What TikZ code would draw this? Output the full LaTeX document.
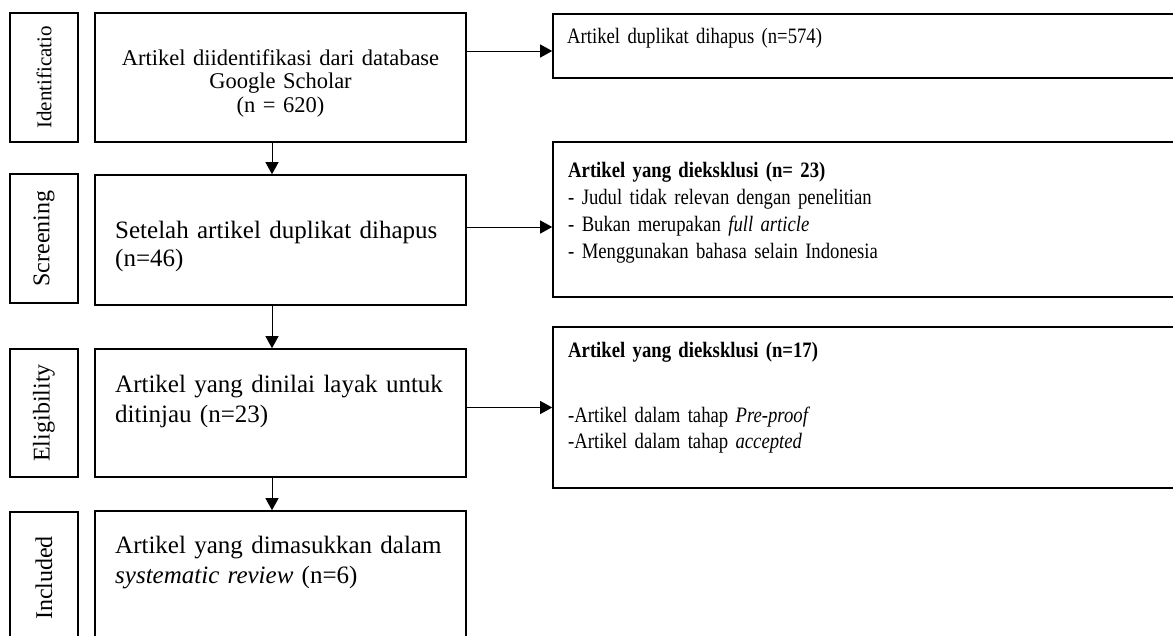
\documentclass[tikz,border=0pt]{standalone}
\usepackage{fontspec}
\setmainfont{Liberation Serif}
\newfontfamily\sidefamily[FakeStretch=0.85]{Liberation Serif}
\usepackage{tikz}
\usetikzlibrary{arrows.meta,positioning}

\newcommand\ftitle{\fontsize{22.5}{23.5}\selectfont}
\newcommand\fmain{\fontsize{25}{28}\selectfont}
\newcommand\fmainwide{\fontsize{25}{30}\selectfont}
\newcommand\fside{\sidefamily\fontsize{22}{27}\selectfont}
\newcommand\fsidethree{\sidefamily\fontsize{22}{26}\selectfont}
\newcommand\fstage{\fontsize{24}{26}\selectfont}
\newcommand\fstagesmall{\fontsize{21}{23}\selectfont}

\tikzset{
  stagebox/.style={draw, line width=1.6pt, rotate=90, inner sep=0pt, minimum height=68pt, font=\fstage},
  mainbox/.style={draw, line width=1.6pt, inner sep=0pt, minimum width=371pt},
  sidebox/.style={draw, line width=1.6pt, inner sep=0pt, minimum width=632pt},
  txt/.style={anchor=base west, inner sep=0pt, text width=345pt, align=left},
  sidetxt/.style={anchor=base west, inner sep=0pt, text width=590pt, align=left},
  arr/.style={-{Triangle[length=12pt,width=13pt]}, line width=1pt}
}

\begin{document}
\begin{tikzpicture}[x=1pt,y=-1pt]
\useasboundingbox (0,0) rectangle (1173,635);

% stages
\node[stagebox, minimum width=129pt, font=\fstagesmall] (s1) at (44,77.5) {Identificatio};
\node[stagebox, minimum width=129pt] (s2) at (44,238.5) {Screening};
\node[stagebox, minimum width=128pt] (s3) at (44,413) {Eligibility};
\node[stagebox, minimum width=132pt] (s4) at (44,578) {Included};

% main column
\node[mainbox, minimum height=129pt] (b1) at (280.5,77.5) {};
\node[mainbox, minimum height=130pt] (b2) at (280.5,240) {};
\node[mainbox, minimum height=128pt] (b3) at (280.5,413) {};
\node[mainbox, minimum height=134pt] (b4) at (280.5,578) {};

\node[txt, anchor=base, align=center, font=\ftitle] (t1) at (280.5,65)
  {Artikel diidentifikasi dari database\\Google Scholar\\(n = 620)};
\node[txt, font=\fmain] (t2) at (115,238) {Setelah artikel duplikat dihapus\\(n=46)};
\node[txt, font=\fmainwide] (t3) at (115,392) {Artikel yang dinilai layak untuk\\ditinjau (n=23)};
\node[txt, font=\fmainwide] (t4) at (115,553) {Artikel yang dimasukkan dalam\\\textit{systematic review} (n=6)};

% excluded column
\node[sidebox, minimum height=64pt] (r1) at (869,46) {};
\node[sidebox, minimum height=155pt] (r2) at (869,219.5) {};
\node[sidebox, minimum height=161pt] (r3) at (869,407.5) {};

\node[sidetxt, font=\fside] (tr1) at (567,43) {Artikel duplikat dihapus (n=574)};
\node[sidetxt, font=\fside] (tr2) at (568,177)
  {\textbf{Artikel yang dieksklusi (n= 23)}\\- Judul tidak relevan dengan penelitian\\- Bukan merupakan \textit{full article}\\- Menggunakan bahasa selain Indonesia};
\node[sidetxt, font=\fsidethree] (tr3) at (568,357)
  {\textbf{Artikel yang dieksklusi (n=17)}\\[39pt]-Artikel dalam tahap \textit{Pre-proof}\\-Artikel dalam tahap \textit{accepted}};

% arrows
\coordinate (ax) at (272,0);
\draw[arr] (b1.south -| ax) -- (b2.north -| ax);
\draw[arr] (b2.south -| ax) -- (b3.north -| ax);
\draw[arr] (b3.south -| ax) -- (b4.north -| ax);

\coordinate (a1) at ([yshift=-5pt]r1.west);
\coordinate (a2) at ([yshift=-7.5pt]r2.west);
\coordinate (a3) at (r3.west);
\draw[arr] (b1.east |- a1) -- (a1);
\draw[arr] (b2.east |- a2) -- (a2);
\draw[arr] (b3.east |- a3) -- (a3);
\end{tikzpicture}
\end{document}
